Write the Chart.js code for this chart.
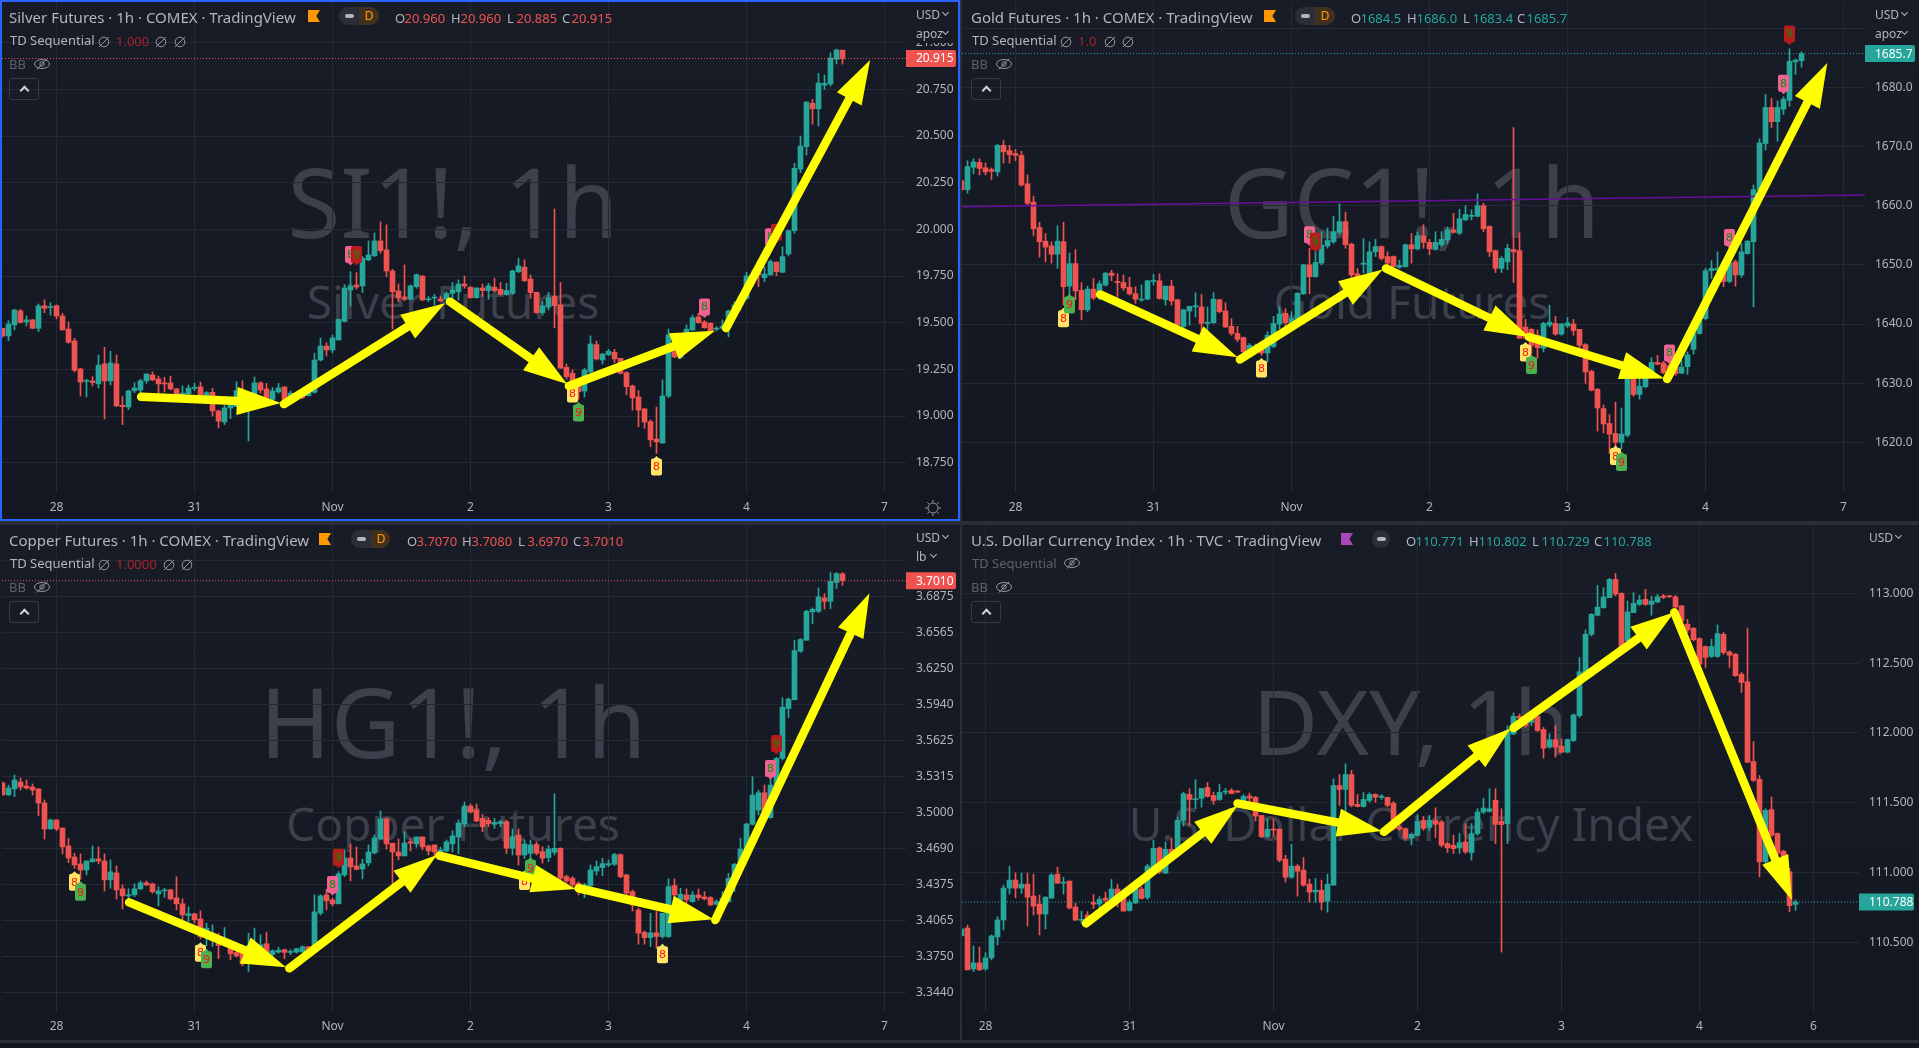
<!DOCTYPE html>
<html lang="en">
<head>
    <meta charset="UTF-8">
    <title>Silver, Gold, Copper, DXY</title>
    <script src="https://cdnjs.cloudflare.com/ajax/libs/Chart.js/4.4.1/chart.umd.min.js"></script>
    <style>
        html, body {
            margin: 0;
            width: 1919px;
            height: 1048px;
            overflow: hidden;
            background-color: #2a2e39;
            font-family: 'Noto Sans', sans-serif;
        }
        .panel {
            position: absolute;
            box-sizing: border-box;
            background: linear-gradient(#181c27, #131722);
        }
        #panelSilver { left: 0; top: 0; width: 960px; height: 521px; border: 2px solid #2962ff; }
        #panelGold { left: 962px; top: 0; width: 957px; height: 521px; }
        #panelCopper { left: 0; top: 525px; width: 960px; height: 515px; }
        #panelDxy { left: 962px; top: 525px; width: 957px; height: 515px; }
        #bottomStrip { position: absolute; left: 0; top: 1043px; width: 1919px; height: 5px; background-color: #131722; }
        .holder { position: absolute; }
        .wm, .lab, .cover { position: absolute; white-space: nowrap; }
        .wm { color: rgba(178, 181, 190, 0.25); text-align: center; transform: translateY(-50%); }
        .lab { transform: translateY(-50%); color: #b2b5be; }
        .cover { background-color: #181c27; }
        .flag { position: absolute; width: 12px; height: 12px; clip-path: polygon(0 0, 100% 0, 70% 50%, 100% 100%, 0 100%); }
        .pill { position: absolute; height: 18px; border-radius: 9px; background-color: #2a2e39; overflow: hidden; }
        .pill i { position: absolute; left: 6px; top: 7px; width: 9px; height: 4px; border-radius: 2px; background-color: #b2b5be; }
        .pill b { position: absolute; left: 20px; top: 0; width: 20px; height: 18px; line-height: 18px; text-align: center;
                  background-color: #42301f; color: #ff9800; font-size: 12px; font-weight: normal; }
        .chev { position: absolute; width: 4px; height: 4px; border-right: 1px solid #b2b5be; border-bottom: 1px solid #b2b5be; transform: rotate(45deg); }
        .btn { position: absolute; width: 28px; height: 20px; border: 1px solid #363a45; border-radius: 3px; }
        .btn span { position: absolute; left: 11px; top: 8px; width: 5px; height: 5px; border-left: 2px solid #d1d4dc; border-top: 2px solid #d1d4dc; transform: rotate(45deg); }
        svg.icon { position: absolute; overflow: visible; }
    </style>
</head>
<body>
    <div class="panel" id="panelSilver"></div>
    <div class="panel" id="panelGold"></div>
    <div class="panel" id="panelCopper"></div>
    <div class="panel" id="panelDxy"></div>
    <div id="bottomStrip"></div>
    <div id="marks"></div>
    <div class="holder" style="left:0;top:0;width:958px;height:520px"><canvas id="silverChart"></canvas></div>
    <div class="holder" style="left:962px;top:0;width:957px;height:521px"><canvas id="goldChart"></canvas></div>
    <div class="holder" style="left:0;top:525px;width:960px;height:515px"><canvas id="copperChart"></canvas></div>
    <div class="holder" style="left:962px;top:525px;width:957px;height:515px"><canvas id="dxyChart"></canvas></div>
    <div id="overlay"></div>

    <script>
        // x axis: bar number of each day mark
        const dayTicks = [9, 32, 55, 78, 101, 124, 147];
        const dayLabels = ['28', '31', 'Nov', '2', '3', '4', '7'];
        const dxyDayTicks = [4, 28, 52, 76, 100, 123, 142];
        const dxyDayLabels = ['28', '31', 'Nov', '2', '3', '4', '6'];

        // ---- silver ----
        const silverTicks = [21, 20.75, 20.5, 20.25, 20, 19.75, 19.5, 19.25, 19, 18.75];
        const silverTickLabels = ['21.000', '20.750', '20.500', '20.250', '20.000', '19.750', '19.500', '19.250', '19.000', '18.750'];
        const silverOpen = [19.470,19.429,19.488,19.563,19.504,19.515,19.470,19.590,19.581,19.591,
            19.536,19.466,19.402,19.252,19.186,19.188,19.172,19.279,19.188,19.279,
            19.057,19.048,19.136,19.139,19.188,19.220,19.198,19.177,19.177,19.145,
            19.113,19.118,19.148,19.156,19.104,19.127,19.027,18.968,19.043,19.050,
            19.125,19.059,19.068,19.177,19.145,19.089,19.129,19.156,19.095,19.104,
            19.113,19.109,19.127,19.300,19.375,19.354,19.407,19.507,19.675,19.702,
            19.697,19.836,19.859,19.938,19.890,19.777,19.670,19.638,19.625,19.693,
            19.750,19.623,19.632,19.627,19.625,19.657,19.666,19.707,19.690,19.634,
            19.686,19.672,19.690,19.679,19.650,19.657,19.773,19.797,19.734,19.663,
            19.554,19.584,19.643,19.595,19.261,19.229,19.184,19.134,19.236,19.382,
            19.300,19.329,19.341,19.309,19.232,19.161,19.102,19.038,18.970,18.877,
            18.855,19.107,19.345,19.314,19.368,19.461,19.531,19.504,19.497,19.465,
            19.470,19.473,19.559,19.595,19.631,19.747,19.782,19.741,19.756,19.824,
            19.770,19.868,19.993,20.323,20.443,20.675,20.646,20.773,20.779,20.911,20.960];
        const silverHigh = [19.470,19.511,19.572,19.572,19.536,19.518,19.600,19.622,19.607,19.595,
            19.550,19.504,19.416,19.256,19.197,19.211,19.327,19.368,19.347,19.327,
            19.104,19.139,19.179,19.197,19.227,19.236,19.214,19.207,19.214,19.148,
            19.161,19.166,19.175,19.182,19.131,19.148,19.032,19.057,19.068,19.184,
            19.189,19.122,19.209,19.184,19.175,19.152,19.175,19.157,19.134,19.125,
            19.122,19.139,19.336,19.418,19.393,19.434,19.518,19.704,19.773,19.768,
            19.854,19.938,19.981,20.040,20.024,19.786,19.707,19.809,19.702,19.761,
            19.752,19.640,19.652,19.643,19.666,19.715,19.729,19.750,19.693,19.686,
            19.707,19.711,19.738,19.715,19.711,19.782,19.845,19.836,19.756,19.663,
            19.613,19.663,20.109,19.715,19.279,19.247,19.202,19.256,19.429,19.402,
            19.336,19.357,19.357,19.309,19.238,19.166,19.136,19.041,18.979,19.048,
            19.193,19.466,19.407,19.380,19.488,19.541,19.550,19.511,19.500,19.479,
            19.515,19.568,19.613,19.657,19.770,19.782,19.791,19.800,19.836,19.827,
            19.907,19.996,20.354,20.500,20.684,20.696,20.836,20.827,20.946,20.966,20.960];
        const silverLow = [19.422,19.404,19.461,19.497,19.482,19.468,19.452,19.554,19.541,19.520,
            19.461,19.390,19.236,19.107,19.102,19.161,19.150,18.984,19.166,19.050,
            18.954,19.034,19.125,19.122,19.175,19.189,19.122,19.129,19.139,19.095,
            19.095,19.104,19.136,19.104,19.068,19.000,18.936,18.954,18.986,19.050,
            19.050,18.866,19.064,19.122,19.086,19.086,19.122,19.077,19.086,19.093,
            19.093,19.107,19.122,19.295,19.322,19.339,19.407,19.504,19.590,19.679,
            19.661,19.832,19.854,19.872,19.747,19.466,19.613,19.618,19.622,19.684,
            19.618,19.613,19.595,19.613,19.604,19.622,19.622,19.684,19.631,19.631,
            19.640,19.625,19.666,19.648,19.647,19.650,19.768,19.720,19.631,19.550,
            19.541,19.568,19.473,19.256,19.197,19.157,19.090,19.102,19.232,19.300,
            19.279,19.323,19.286,19.225,19.113,19.032,18.943,18.934,18.836,18.800,
            18.855,19.098,19.313,19.307,19.363,19.457,19.497,19.470,19.454,19.456,
            19.465,19.425,19.550,19.568,19.625,19.729,19.693,19.720,19.754,19.752,
            19.768,19.857,19.979,20.304,20.398,20.564,20.554,20.750,20.768,20.886,20.885];
        const silverClose = [19.429,19.493,19.568,19.502,19.515,19.470,19.590,19.577,19.586,19.536,
            19.461,19.395,19.245,19.182,19.189,19.179,19.272,19.188,19.284,19.054,
            19.050,19.134,19.150,19.189,19.225,19.193,19.172,19.172,19.145,19.113,
            19.122,19.150,19.154,19.113,19.125,19.027,18.973,19.043,19.059,19.136,
            19.057,19.077,19.177,19.139,19.095,19.134,19.150,19.086,19.122,19.118,
            19.100,19.125,19.300,19.375,19.354,19.418,19.518,19.686,19.697,19.691,
            19.845,19.863,19.938,19.886,19.777,19.666,19.634,19.625,19.697,19.757,
            19.622,19.627,19.636,19.616,19.657,19.675,19.707,19.697,19.634,19.686,
            19.672,19.697,19.672,19.652,19.672,19.777,19.804,19.725,19.661,19.554,
            19.590,19.634,19.591,19.256,19.211,19.184,19.130,19.247,19.386,19.306,
            19.332,19.347,19.306,19.229,19.157,19.097,19.032,18.968,18.872,18.861,
            19.107,19.434,19.316,19.368,19.465,19.527,19.500,19.473,19.457,19.468,
            19.481,19.563,19.595,19.640,19.750,19.759,19.756,19.761,19.827,19.773,
            19.854,19.993,20.327,20.446,20.682,20.646,20.784,20.782,20.918,20.961,20.915];
        // start bar, start price, end bar, end price
        const silverArrows = [[23.1,19.103,46.4,19.070],[46.9,19.064,73.75,19.604],[74.6,19.612,94.1,19.171],
            [94.4,19.161,118.75,19.457],[120.6,19.471,144.6,20.907]];
        const silverTags = [[58,19.865,'8','sell'],[59,19.865,'9','top'],[95,19.118,'8','buy'],[96,19.016,'9','low'],
            [109,18.727,'8','buy'],[117,19.584,'8','sell'],[128,19.96,'8','sell'],[129,19.985,'9','top']];

        // ---- gold ----
        const goldTicks = [1690, 1680, 1670, 1660, 1650, 1640, 1630, 1620];
        const goldTickLabels = ['', '1680.0', '1670.0', '1660.0', '1650.0', '1640.0', '1630.0', '1620.0'];
        const goldOpen = [1664.2,1662.7,1666.5,1667.3,1666.4,1666.1,1665.7,1670.2,1669.3,1668.8,
            1668.5,1663.7,1660.6,1656.3,1654.0,1653.2,1651.8,1653.9,1646.4,1650.2,
            1645.7,1642.4,1645.9,1645.5,1646.6,1648.6,1647.2,1647.0,1646.2,1645.1,
            1644.05,1644.2,1647.2,1647.3,1644.1,1646.4,1644.1,1639.6,1642.2,1642.9,
            1642.9,1640.1,1640.2,1644.1,1642.2,1639.6,1638.4,1637.7,1635.0,1635.6,
            1635.9,1635.1,1636.2,1640.0,1641.8,1639.5,1640.7,1645.1,1650.0,1648.0,
            1650.3,1653.2,1653.9,1655.5,1657.3,1653.5,1648.5,1650.1,1648.3,1652.2,
            1653.1,1651.4,1651.4,1649.6,1649.7,1653.4,1652.7,1654.9,1653.8,1652.6,
            1653.4,1654.2,1655.9,1655.35,1657.6,1658.2,1658.2,1660.0,1656.5,1652.4,
            1649.4,1650.5,1652.6,1652.4,1639.5,1639.1,1638.1,1635.9,1639.8,1640.1,
            1638.3,1639.7,1640.0,1639.1,1636.5,1632.0,1628.96,1625.7,1623.2,1621.5,
            1620.0,1621.2,1631.3,1628.1,1629.4,1631.5,1633.5,1633.4,1633.0,1632.6,
            1631.7,1632.8,1635.7,1638.4,1640.9,1649.0,1649.1,1649.7,1647.2,1650.5,
            1648.3,1651.9,1653.9,1662.7,1670.5,1676.6,1674.2,1676.3,1677.8,1684.3,1684.5];
        const goldHigh = [1664.4,1667.6,1667.9,1667.9,1667.2,1666.4,1670.4,1671.0,1670.2,1669.5,
            1669.2,1665.2,1661.6,1657.2,1655.3,1653.9,1656.6,1657.2,1652.0,1652.6,
            1647.0,1646.4,1647.7,1647.3,1648.7,1649.1,1648.5,1648.3,1647.9,1646.3,
            1646.6,1647.4,1648.4,1648.5,1646.4,1647.4,1644.2,1642.5,1643.0,1645.3,
            1645.0,1642.9,1645.3,1644.2,1643.6,1640.9,1639.6,1637.8,1636.7,1636.6,
            1636.7,1638.7,1641.3,1643.0,1642.6,1642.1,1645.3,1650.1,1652.8,1653.1,
            1655.6,1656.2,1658.2,1660.3,1658.9,1653.7,1649.4,1654.4,1653.9,1654.3,
            1653.2,1652.2,1651.5,1650.8,1653.5,1655.3,1655.5,1656.8,1654.3,1655.6,
            1655.6,1656.4,1658.7,1659.4,1660.0,1659.3,1662.0,1660.4,1656.6,1652.5,
            1651.4,1653.5,1673.2,1655.4,1640.8,1639.2,1639.0,1640.3,1643.2,1641.3,
            1640.1,1641.1,1640.8,1639.1,1636.7,1632.2,1629.1,1626.3,1624.7,1626.8,
            1625.8,1631.9,1632.8,1631.1,1632.5,1634.3,1634.7,1633.7,1634.2,1633.3,
            1633.9,1635.3,1639.0,1641.5,1649.4,1650.7,1652.2,1650.5,1650.8,1650.8,
            1653.7,1654.1,1663.5,1671.3,1678.8,1678.1,1677.7,1678.4,1686.5,1684.8,1686.0];
        const goldLow = [1662.5,1662.1,1665.4,1665.2,1665.2,1664.4,1665.0,1667.2,1667.2,1667.6,
            1663.3,1660.2,1654.9,1651.3,1650.5,1650.3,1649.4,1643.2,1644.6,1644.1,
            1640.7,1642.1,1644.1,1644.1,1646.4,1647.3,1644.6,1645.7,1644.9,1643.5,
            1643.8,1644.1,1646.6,1644.2,1643.2,1643.2,1639.5,1639.0,1639.8,1641.2,
            1638.7,1638.7,1640.1,1641.9,1639.4,1638.1,1637.0,1635.0,1634.7,1635.3,
            1634.7,1633.6,1636.0,1639.2,1639.5,1639.2,1640.5,1645.0,1645.1,1647.9,
            1650.0,1652.8,1653.6,1655.1,1652.8,1647.4,1647.4,1648.6,1648.0,1651.4,
            1650.8,1649.4,1649.6,1649.4,1649.6,1650.3,1652.5,1652.8,1651.7,1652.5,
            1653.1,1653.6,1655.35,1655.1,1657.5,1657.6,1658.1,1655.6,1651.4,1648.7,
            1648.7,1649.2,1647.0,1637.6,1637.4,1635.0,1634.2,1635.3,1639.5,1638.1,
            1638.1,1639.4,1638.1,1636.0,1630.0,1628.7,1621.9,1621.6,1618.1,1619.2,
            1618.9,1620.9,1627.8,1627.3,1629.2,1631.3,1633.1,1631.6,1631.6,1631.3,
            1631.6,1631.5,1634.9,1638.3,1640.7,1647.7,1647.7,1646.3,1647.0,1646.4,
            1647.9,1651.8,1642.9,1662.4,1669.4,1673.2,1670.9,1675.4,1676.8,1682.2,1683.4];
        const goldClose = [1662.7,1666.6,1667.4,1666.3,1665.7,1665.8,1670.2,1669.1,1668.6,1668.5,
            1663.5,1660.4,1656.1,1653.9,1653.0,1651.8,1654.0,1646.3,1650.2,1645.6,
            1642.4,1645.9,1644.4,1646.8,1648.6,1648.2,1647.0,1646.1,1645.1,1644.2,
            1644.2,1647.3,1647.3,1644.3,1646.4,1643.9,1639.8,1642.4,1643.0,1643.1,
            1640.1,1640.3,1644.2,1642.1,1639.5,1638.4,1637.4,1635.3,1636.4,1636.2,
            1635.1,1638.1,1640.1,1641.7,1640.2,1640.9,1645.2,1650.0,1648.0,1650.4,
            1653.3,1654.1,1655.6,1657.3,1653.4,1648.3,1648.0,1650.3,1652.2,1653.1,
            1651.1,1650.3,1649.7,1649.9,1653.4,1652.7,1654.9,1653.8,1652.7,1653.8,
            1654.3,1655.9,1655.5,1657.8,1658.5,1658.3,1660.0,1656.1,1652.2,1649.4,
            1651.1,1652.8,1652.2,1637.6,1637.6,1636.4,1636.0,1640.1,1640.3,1638.3,
            1640.0,1640.2,1638.9,1636.4,1631.9,1628.8,1625.8,1623.1,1621.4,1620.0,
            1621.4,1630.8,1628.1,1629.5,1631.6,1633.5,1633.2,1631.8,1631.9,1631.6,
            1632.7,1634.8,1638.4,1640.8,1649.0,1649.4,1649.4,1647.2,1650.3,1648.3,
            1652.2,1654.0,1662.7,1670.6,1676.6,1674.2,1676.6,1678.0,1684.4,1684.6,1685.7];
        const goldArrows = [[23.1,1645.0,46.0,1634.4],[46.4,1634.0,70.2,1649.2],[70.75,1649.4,94.6,1637.8],
            [94.6,1637.8,117.1,1630.8],[117.6,1630.7,144.3,1684.1]];
        const goldTags = [[17,1640.9,'8','buy'],[18,1643.2,'9','low'],[50,1632.4,'8','buy'],[58,1655.1,'8','sell'],
            [59,1654.0,'9','top'],[94,1635.1,'8','buy'],[95,1633.0,'9','low'],[109,1617.6,'8','buy'],[110,1616.6,'9','low'],
            [118,1635.1,'8','sell'],[128,1654.6,'8','sell'],[137,1680.7,'8','sell'],[138,1689.0,'9','top']];
        const goldBand = [[0, 1659.8], [151, 1661.8]];

        // ---- copper ----
        const copperTicks = [3.71875, 3.6875, 3.65625, 3.625, 3.59375, 3.5625, 3.53125, 3.5, 3.46875, 3.4375, 3.40625, 3.375, 3.34375];
        const copperTickLabels = ['', '3.6875', '3.6565', '3.6250', '3.5940', '3.5625', '3.5315', '3.5000', '3.4690', '3.4375', '3.4065', '3.3750', '3.3440'];
        const copperOpen = [3.5255,3.5151,3.5203,3.5263,3.5229,3.5220,3.5203,3.5081,3.4856,3.4934,
            3.4864,3.4708,3.4613,3.4552,3.4500,3.4570,3.4596,3.4578,3.4414,3.4474,
            3.4336,3.4275,3.4284,3.4336,3.4388,3.4379,3.4292,3.4318,3.4327,3.4258,
            3.4206,3.4104,3.4119,3.4075,3.3922,3.3908,3.3922,3.3870,3.3836,3.3784,
            3.3784,3.3763,3.3792,3.3807,3.3859,3.3766,3.3787,3.3807,3.3784,3.3787,
            3.3789,3.3833,3.3836,3.4125,3.4284,3.4240,3.4206,3.4457,3.4604,3.4535,
            3.4509,3.4561,3.4648,3.4769,3.4942,3.4732,3.4656,3.4622,3.4746,3.4726,
            3.4786,3.4708,3.4717,3.4651,3.4665,3.4726,3.4786,3.4899,3.5055,3.5020,
            3.4948,3.4930,3.4896,3.4902,3.4919,3.4688,3.4803,3.4630,3.4644,3.4722,
            3.4659,3.4607,3.4653,3.4688,3.4442,3.4428,3.4384,3.4312,3.4364,3.4491,
            3.4520,3.4543,3.4549,3.4633,3.4457,3.4312,3.4153,3.3959,3.3913,3.3954,
            3.3922,3.3922,3.4364,3.4240,3.4283,3.4225,3.4283,3.4266,3.4260,3.4202,
            3.4211,3.4225,3.4413,3.4543,3.4673,3.4896,3.5020,3.5170,3.4954,3.5237,
            3.5468,3.5901,3.5977,3.6399,3.6494,3.6740,3.6745,3.6861,3.6832,3.6994,3.7070];
        const copperHigh = [3.5263,3.5237,3.5324,3.5298,3.5281,3.5246,3.5208,3.5107,3.4942,3.4934,
            3.4864,3.4775,3.4645,3.4639,3.4578,3.4708,3.4700,3.4639,3.4587,3.4535,
            3.4370,3.4336,3.4379,3.4405,3.4405,3.4385,3.4353,3.4341,3.4333,3.4440,
            3.4249,3.4180,3.4125,3.4145,3.4038,3.4023,3.3951,3.4000,3.3893,3.3807,
            3.3836,3.3951,3.3995,3.3937,3.3960,3.3807,3.3830,3.3812,3.3807,3.3821,
            3.3841,3.3836,3.4284,3.4284,3.4333,3.4255,3.4486,3.4674,3.4726,3.4700,
            3.4593,3.4717,3.4804,3.5012,3.4951,3.4732,3.4769,3.4830,3.4766,3.4786,
            3.4786,3.4717,3.4717,3.4697,3.4760,3.4838,3.4934,3.5090,3.5072,3.5072,
            3.4982,3.4954,3.4948,3.4933,3.4933,3.4855,3.4855,3.4760,3.4760,3.4745,
            3.4702,3.4711,3.5162,3.4693,3.4456,3.4442,3.4399,3.4384,3.4543,3.4578,
            3.4601,3.4587,3.4644,3.4639,3.4462,3.4326,3.4168,3.3971,3.4124,3.4139,
            3.4124,3.4422,3.4422,3.4341,3.4335,3.4312,3.4335,3.4312,3.4269,3.4240,
            3.4312,3.4471,3.4558,3.4775,3.4904,3.5309,3.5193,3.5237,3.5338,3.5477,
            3.5994,3.5994,3.6494,3.6508,3.6754,3.6774,3.6948,3.6899,3.7081,3.7081,3.7080];
        const copperLow = [3.5151,3.5148,3.5136,3.5194,3.5200,3.5151,3.4971,3.4769,3.4853,3.4841,
            3.4639,3.4564,3.4515,3.4419,3.4457,3.4570,3.4552,3.4318,3.4341,3.4249,
            3.4162,3.4226,3.4269,3.4327,3.4362,3.4298,3.4188,3.4263,3.4240,3.4154,
            3.4067,3.4052,3.4038,3.3902,3.3841,3.3836,3.3729,3.3836,3.3720,3.3743,
            3.3668,3.3619,3.3749,3.3749,3.3749,3.3749,3.3778,3.3729,3.3763,3.3778,
            3.3784,3.3792,3.3821,3.4110,3.4154,3.4188,3.4206,3.4442,3.4405,3.4500,
            3.4422,3.4535,3.4639,3.4760,3.4682,3.4379,3.4587,3.4622,3.4665,3.4697,
            3.4674,3.4630,3.4616,3.4630,3.4656,3.4656,3.4639,3.4876,3.4994,3.4919,
            3.4832,3.4875,3.4861,3.4875,3.4644,3.4630,3.4543,3.4601,3.4572,3.4630,
            3.4558,3.4572,3.4630,3.4413,3.4384,3.4355,3.4283,3.4260,3.4355,3.4456,
            3.4451,3.4529,3.4538,3.4433,3.4283,3.4144,3.3855,3.3855,3.3835,3.3821,
            3.3907,3.3913,3.4225,3.4225,3.4211,3.4220,3.4240,3.4240,3.4191,3.4196,
            3.4196,3.4220,3.4312,3.4538,3.4601,3.4890,3.4977,3.4933,3.4948,3.5222,
            3.5454,3.5823,3.5977,3.6387,3.6494,3.6638,3.6734,3.6763,3.6768,3.6942,3.6970];
        const copperClose = [3.5151,3.5211,3.5281,3.5220,3.5211,3.5194,3.5081,3.4856,3.4934,3.4856,
            3.4700,3.4604,3.4544,3.4500,3.4578,3.4596,3.4578,3.4414,3.4483,3.4327,
            3.4275,3.4281,3.4336,3.4388,3.4370,3.4310,3.4318,3.4324,3.4249,3.4206,
            3.4110,3.4119,3.4067,3.3922,3.3995,3.3951,3.3844,3.3908,3.3772,3.3755,
            3.3685,3.3841,3.3865,3.3850,3.3778,3.3798,3.3804,3.3784,3.3792,3.3815,
            3.3833,3.3801,3.4136,3.4275,3.4232,3.4206,3.4466,3.4604,3.4526,3.4506,
            3.4552,3.4656,3.4778,3.4942,3.4726,3.4656,3.4622,3.4734,3.4732,3.4786,
            3.4700,3.4665,3.4656,3.4674,3.4743,3.4795,3.4908,3.5055,3.5003,3.4925,
            3.4875,3.4902,3.4913,3.4919,3.4688,3.4789,3.4630,3.4725,3.4717,3.4644,
            3.4601,3.4682,3.4688,3.4428,3.4404,3.4370,3.4326,3.4370,3.4500,3.4529,
            3.4555,3.4555,3.4633,3.4442,3.4298,3.4196,3.3951,3.3913,3.3954,3.3922,
            3.4124,3.4355,3.4283,3.4289,3.4240,3.4283,3.4260,3.4248,3.4196,3.4225,
            3.4254,3.4428,3.4549,3.4682,3.4899,3.5150,3.5170,3.4948,3.5237,3.5468,
            3.5913,3.5982,3.6404,3.6500,3.6745,3.6763,3.6870,3.6832,3.7005,3.7072,3.7010];
        const copperArrows = [[21.1,3.4219,47.25,3.3655],[47.8,3.3646,72.4,3.4630],[72.8,3.4624,95.5,3.4334],
            [96.0,3.4341,118.5,3.4071],[118.8,3.4065,144.5,3.6901]];
        const copperTags = [[12,3.4393,'8','buy'],[13,3.4307,'9','low'],[33,3.3778,'8','buy'],[34,3.3720,'9','low'],
            [55,3.4373,'8','sell'],[56,3.4610,'9','top'],[87,3.4399,'8','buy'],[88,3.4514,'9','low'],[110,3.3763,'8','buy'],
            [128,3.5381,'8','sell'],[129,3.5598,'9','top']];

        // ---- dollar index ----
        const dxyTicks = [113, 112.5, 112, 111.5, 111, 110.5];
        const dxyTickLabels = ['113.000', '112.500', '112.000', '111.500', '111.000', '110.500'];
        const dxyOpen = [110.547,110.602,110.309,110.352,110.309,110.388,110.538,110.659,110.888,110.945,
            110.888,110.916,110.831,110.773,110.702,110.816,110.988,110.923,110.938,110.752,
            110.657,110.695,110.785,110.773,110.816,110.802,110.881,110.814,110.728,110.781,
            110.881,110.821,110.992,111.176,110.995,111.166,111.171,111.373,111.559,111.521,
            111.531,111.609,111.552,111.523,111.576,111.588,111.583,111.504,111.547,111.538,
            111.409,111.257,111.309,111.309,111.095,110.966,111.045,111.016,110.916,110.861,
            110.873,110.795,110.909,111.623,111.595,111.702,111.488,111.473,111.516,111.559,
            111.538,111.538,111.495,111.326,111.314,111.247,111.266,111.373,111.323,111.373,
            111.362,111.207,111.195,111.176,111.219,111.143,111.279,111.433,111.438,111.517,
            111.367,111.350,111.993,112.119,112.119,112.076,112.119,112.024,111.898,111.952,
            111.905,111.862,111.945,112.124,112.433,112.707,112.843,112.898,112.969,113.100,
            113.000,112.660,112.862,112.921,112.957,112.921,112.938,112.981,112.981,112.974,
            112.910,112.779,112.750,112.676,112.619,112.548,112.548,112.707,112.581,112.564,
            112.421,112.367,111.795,111.667,111.076,111.450,111.279,111.152,111.005,110.771];
        const dxyHigh = [110.600,110.623,110.473,110.466,110.426,110.552,110.683,110.909,111.045,110.997,
            110.995,110.995,110.988,110.838,110.826,110.992,111.038,110.966,110.938,110.778,
            110.723,110.719,110.842,110.826,110.859,110.950,110.916,110.838,110.802,110.921,
            110.897,111.059,111.231,111.183,111.219,111.247,111.397,111.576,111.600,111.666,
            111.602,111.645,111.576,111.631,111.602,111.602,111.588,111.559,111.569,111.545,
            111.409,111.385,111.385,111.314,111.123,111.202,111.057,111.107,110.952,110.957,
            110.945,110.988,111.671,111.702,111.778,111.731,111.559,111.573,111.571,111.564,
            111.559,111.540,111.509,111.338,111.319,111.283,111.416,111.402,111.409,111.464,
            111.374,111.219,111.267,111.279,111.350,111.350,111.457,111.533,111.600,111.600,
            111.457,112.052,112.143,112.136,112.129,112.124,112.124,112.040,111.993,112.052,
            111.957,111.957,112.136,112.540,112.738,112.855,113.057,113.040,113.107,113.143,
            113.005,112.945,113.005,112.986,113.029,112.981,112.993,112.993,112.986,112.986,
            112.914,112.814,112.755,112.683,112.624,112.671,112.774,112.719,112.588,112.569,
            112.433,112.748,111.938,111.695,111.457,111.540,111.283,111.160,111.029,110.802];
        const dxyLow = [110.540,110.302,110.290,110.297,110.297,110.373,110.481,110.588,110.845,110.819,
            110.850,110.616,110.695,110.552,110.595,110.814,110.921,110.845,110.738,110.654,
            110.635,110.635,110.742,110.747,110.754,110.790,110.754,110.723,110.723,110.778,
            110.809,110.807,110.992,110.992,110.992,111.107,111.159,111.333,111.338,111.457,
            111.469,111.540,111.488,111.516,111.559,111.564,111.571,111.481,111.481,111.369,
            111.250,111.250,111.254,111.076,110.931,110.957,110.831,110.902,110.788,110.788,
            110.731,110.716,110.909,111.481,111.409,111.469,111.469,111.469,111.504,111.504,
            111.523,111.469,111.302,111.302,111.231,111.197,111.261,111.302,111.302,111.250,
            111.183,111.143,111.136,111.136,111.136,111.088,111.267,111.421,111.433,111.207,
            110.429,111.207,111.986,112.076,112.040,112.052,112.010,111.819,111.890,111.826,
            111.857,111.857,111.938,112.112,112.421,112.695,112.838,112.893,112.969,112.981,
            112.600,112.648,112.862,112.914,112.914,112.843,112.933,112.962,112.969,112.838,
            112.743,112.719,112.660,112.481,112.469,112.541,112.541,112.564,112.469,112.405,
            112.290,111.786,111.652,110.969,111.064,111.255,111.124,110.945,110.719,110.729];
        const dxyClose = [110.595,110.302,110.352,110.302,110.388,110.545,110.659,110.888,110.945,110.888,
            110.916,110.823,110.759,110.702,110.823,110.981,110.923,110.931,110.745,110.659,
            110.664,110.664,110.773,110.807,110.802,110.881,110.790,110.723,110.785,110.885,
            110.814,111.045,111.173,111.004,111.166,111.111,111.373,111.564,111.523,111.528,
            111.602,111.545,111.516,111.573,111.583,111.566,111.576,111.545,111.533,111.404,
            111.257,111.309,111.304,111.088,110.966,111.045,111.009,110.909,110.859,110.873,
            110.788,110.916,111.623,111.595,111.702,111.481,111.473,111.523,111.559,111.540,
            111.547,111.481,111.314,111.311,111.245,111.273,111.366,111.316,111.373,111.345,
            111.195,111.176,111.171,111.214,111.148,111.279,111.433,111.462,111.457,111.345,
            111.343,112.017,112.119,112.107,112.052,112.112,112.017,111.890,111.952,111.898,
            111.862,111.952,112.129,112.438,112.707,112.850,112.902,112.974,113.100,112.995,
            112.600,112.867,112.929,112.952,112.921,112.945,112.976,112.971,112.976,112.902,
            112.802,112.738,112.667,112.493,112.541,112.619,112.712,112.576,112.557,112.410,
            112.362,111.790,111.660,111.076,111.445,111.267,111.136,111.005,110.762,110.788];
        const dxyArrows = [[20.75,110.635,46.0,111.478],[46.0,111.495,70.0,111.298],[70.4,111.291,91.5,112.032],
            [92.0,112.035,118.8,112.864],[118.8,112.864,138.4,110.802]];
        const dxyTags = [];

        const UP = '#26a69a';
        const DOWN = '#ef5350';
        const GRID = '#252934';
        const TEXT = '#b2b5be';
        const FONT = "'Noto Sans', sans-serif";

        const tagStyles = {
            buy: { bg: '#ffe566', fg: '#ff1010', tip: -1 },
            low: { bg: '#4caf50', fg: '#ff1010', tip: -1 },
            sell: { bg: '#f06292', fg: '#0a8f0a', tip: 1 },
            top: { bg: '#b71c1c', fg: '#0a8f0a', tip: 1 }
        };

        // yellow arrows, TD tags and the last price box, placed through the chart scales
        const drawings = {
            id: 'drawings',
            afterDatasetsDraw(chart, args, opts) {
                const { ctx, scales: { x, y } } = chart;
                ctx.save();

                opts.tags.forEach(([bar, price, digit, kind]) => {
                    const st = tagStyles[kind];
                    const px = x.getPixelForValue(bar);
                    const py = y.getPixelForValue(price);
                    ctx.fillStyle = st.bg;
                    ctx.beginPath();
                    ctx.roundRect(px - 5.5, py - 8.5, 11, 17, 2);
                    ctx.fill();
                    ctx.beginPath();
                    ctx.moveTo(px - 3, py + st.tip * 8);
                    ctx.lineTo(px + 3, py + st.tip * 8);
                    ctx.lineTo(px, py + st.tip * 11);
                    ctx.fill();
                    ctx.fillStyle = st.fg;
                    ctx.font = "11px 'DejaVu Sans'";
                    ctx.textAlign = 'center';
                    ctx.textBaseline = 'middle';
                    ctx.fillText(digit, px, py + 0.5);
                });

                opts.arrows.forEach(([x0, y0, x1, y1]) => {
                    const ax = x.getPixelForValue(x0), ay = y.getPixelForValue(y0);
                    const bx = x.getPixelForValue(x1), by = y.getPixelForValue(y1);
                    const ang = Math.atan2(by - ay, bx - ax);
                    const ux = Math.cos(ang), uy = Math.sin(ang);
                    const baseX = bx - ux * 44, baseY = by - uy * 44;
                    ctx.strokeStyle = '#ffff00';
                    ctx.fillStyle = '#ffff00';
                    ctx.lineWidth = 8.5;
                    ctx.lineCap = 'round';
                    ctx.beginPath();
                    ctx.moveTo(ax, ay);
                    ctx.lineTo(baseX, baseY);
                    ctx.stroke();
                    ctx.beginPath();
                    ctx.moveTo(bx, by);
                    ctx.lineTo(baseX - uy * 14, baseY + ux * 14);
                    ctx.lineTo(baseX + uy * 14, baseY - ux * 14);
                    ctx.closePath();
                    ctx.fill();
                });

                const py = y.getPixelForValue(opts.last);
                ctx.fillStyle = opts.lastColor;
                ctx.beginPath();
                ctx.roundRect(x.right, py - 8.5, opts.boxWidth, 17, [0, 2, 2, 0]);
                ctx.fill();
                ctx.fillStyle = '#ffffff';
                ctx.font = '12px ' + FONT;
                ctx.textAlign = 'left';
                ctx.textBaseline = 'middle';
                ctx.fillText(opts.lastLabel, x.right + 10, py + 0.5);
                ctx.restore();
            }
        };

        // chart.js pads the plot for the outer tick labels, the reference has none of that
        function noPadding(axis) {
            axis.paddingTop = axis.paddingBottom = axis.paddingLeft = axis.paddingRight = 0;
        }

        function makeChart(id, cfg) {
            const bars = cfg.open.map((_, i) => i);
            const colors = bars.map(i => (cfg.close[i] >= cfg.open[i] ? UP : DOWN));
            const datasets = [
                { type: 'bar', data: bars.map(i => ({ x: i, y: [cfg.low[i], cfg.high[i]] })), backgroundColor: colors,
                  barThickness: 1, grouped: false, order: 3, borderWidth: 0 },
                { type: 'bar', data: bars.map(i => ({ x: i, y: [cfg.open[i], cfg.close[i]] })), backgroundColor: colors,
                  barThickness: 5, minBarLength: 1, grouped: false, order: 2, borderWidth: 0 },
                { type: 'line', data: [{ x: cfg.xMin, y: cfg.last }, { x: cfg.xMax, y: cfg.last }], borderColor: cfg.lastColor,
                  borderWidth: 1, borderDash: [1, 2], pointRadius: 0, order: 1 }
            ];
            if (cfg.band) {
                datasets.push({ type: 'line', data: cfg.band.map(p => ({ x: p[0], y: p[1] })), borderColor: '#6a0f9c',
                                borderWidth: 1.5, pointRadius: 0, order: 1 });
            }
            return new Chart(document.getElementById(id), {
                data: { datasets },
                options: {
                    responsive: true,
                    maintainAspectRatio: false,
                    animation: false,
                    devicePixelRatio: 1,
                    layout: { padding: cfg.padding },
                    plugins: {
                        legend: { display: false },
                        tooltip: { enabled: false },
                        drawings: { arrows: cfg.arrows, tags: cfg.tags, last: cfg.last, lastColor: cfg.lastColor,
                                    lastLabel: cfg.lastLabel, boxWidth: cfg.boxWidth }
                    },
                    scales: {
                        x: {
                            type: 'linear',
                            offset: false,
                            min: cfg.xMin,
                            max: cfg.xMax,
                            afterBuildTicks: axis => { axis.ticks = cfg.dayTicks.map(v => ({ value: v })); },
                            afterFit: axis => { axis.height = cfg.xHeight; noPadding(axis); },
                            grid: { color: GRID, drawTicks: false, offset: false },
                            border: { display: false },
                            ticks: {
                                autoSkip: false, maxRotation: 0, padding: 7, color: TEXT,
                                font: { family: FONT, size: 12 },
                                callback: v => cfg.dayLabels[cfg.dayTicks.indexOf(v)]
                            }
                        },
                        y: {
                            position: 'right',
                            min: cfg.yMin,
                            max: cfg.yMax,
                            afterBuildTicks: axis => { axis.ticks = cfg.ticks.map(v => ({ value: v })); },
                            afterFit: axis => { axis.width = cfg.yWidth; noPadding(axis); },
                            grid: { color: GRID, drawTicks: false },
                            border: { display: false },
                            ticks: {
                                autoSkip: false, padding: 10, color: TEXT,
                                font: { family: FONT, size: 12 },
                                callback: v => cfg.tickLabels[cfg.ticks.indexOf(v)]
                            }
                        }
                    }
                },
                plugins: [drawings]
            });
        }

        makeChart('silverChart', {
            open: silverOpen, high: silverHigh, low: silverLow, close: silverClose,
            ticks: silverTicks, tickLabels: silverTickLabels, dayTicks, dayLabels,
            arrows: silverArrows, tags: silverTags,
            xMin: -0.083, xMax: 150.584, yMin: 18.5875, yMax: 21.218,
            padding: { left: 2, top: 2 }, yWidth: 52, xHeight: 27,
            last: 20.915, lastColor: DOWN, lastLabel: '20.915', boxWidth: 50
        });
        makeChart('goldChart', {
            open: goldOpen, high: goldHigh, low: goldLow, close: goldClose,
            ticks: goldTicks, tickLabels: goldTickLabels, dayTicks, dayLabels,
            arrows: goldArrows, tags: goldTags, band: goldBand,
            xMin: 0.083, xMax: 150.583, yMin: 1611.44, yMax: 1694.59,
            padding: { top: 1 }, yWidth: 54, xHeight: 28,
            last: 1685.7, lastColor: UP, lastLabel: '1685.7', boxWidth: 50
        });
        makeChart('copperChart', {
            open: copperOpen, high: copperHigh, low: copperLow, close: copperClose,
            ticks: copperTicks, tickLabels: copperTickLabels, dayTicks, dayLabels,
            arrows: copperArrows, tags: copperTags,
            xMin: -0.083, xMax: 150.584, yMin: 3.3267, yMax: 3.7494,
            padding: { left: 2 }, yWidth: 54, xHeight: 28,
            last: 3.7010, lastColor: DOWN, lastLabel: '3.7010', boxWidth: 50
        });
        makeChart('dxyChart', {
            open: dxyOpen, high: dxyHigh, low: dxyLow, close: dxyClose,
            ticks: dxyTicks, tickLabels: dxyTickLabels, dayTicks: dxyDayTicks, dayLabels: dxyDayLabels,
            arrows: dxyArrows, tags: dxyTags,
            xMin: 0.083, xMax: 149.583, yMin: 110.0, yMax: 113.49,
            padding: {}, yWidth: 60, xHeight: 28,
            last: 110.788, lastColor: UP, lastLabel: '110.788', boxWidth: 55
        });

        // ---- page furniture: watermarks, legends, scale buttons ----
        const marks = document.getElementById('marks');
        const overlay = document.getElementById('overlay');

        function watermark(text, centerX, centerY, size) {
            const el = document.createElement('div');
            el.className = 'wm';
            el.textContent = text;
            el.style.cssText = `left:${centerX - 450}px;width:900px;top:${centerY}px;font-size:${size}px`;
            marks.appendChild(el);
        }
        function label(x, y, text, color, size, parent) {
            const el = document.createElement('div');
            el.className = 'lab';
            el.textContent = text;
            el.style.cssText = `left:${x}px;top:${y}px;color:${color || TEXT};font-size:${size || 13}px`;
            (parent || overlay).appendChild(el);
        }
        function element(cls, css, html) {
            const el = document.createElement('div');
            el.className = cls;
            el.style.cssText = css;
            if (html) el.innerHTML = html;
            overlay.appendChild(el);
        }
        function noSign(x, y, dim) {
            overlay.insertAdjacentHTML('beforeend',
                `<svg class="icon" style="left:${x - 6}px;top:${y - 6}px" width="12" height="12" fill="none" stroke="${dim ? '#6a6d78' : '#9598a1'}">
                 <circle cx="6" cy="6" r="4.8"/><line x1="1" y1="11" x2="11" y2="1"/></svg>`);
        }
        function eye(x, y) {
            overlay.insertAdjacentHTML('beforeend',
                `<svg class="icon" style="left:${x - 8}px;top:${y - 6}px" width="16" height="12" fill="none" stroke="#9598a1">
                 <ellipse cx="8" cy="6" rx="7.5" ry="4.5"/><circle cx="8" cy="6" r="2.2"/><line x1="3" y1="11.5" x2="13" y2="0.5"/></svg>`);
        }
        function legend(p) {
            const y = p.top;
            label(p.left, y + 17, p.title, '#b2b5be', 15);
            element('flag', `left:${p.flagX}px;top:${y + 10}px;background:${p.flagColor}`);
            element('pill', `left:${p.pillX}px;top:${y + 7}px;width:${p.pillW}px`, p.pillD ? '<i></i><b>D</b>' : '<i style="left:5px"></i>');
            ['O', 'H', 'L', 'C'].forEach((n, i) => {
                label(p.ohlcX[i], y + 18, n, TEXT, 13);
                label(p.ohlcX[i] + 9.5, y + 18, p.ohlc[i], p.ohlcColor, 13);
            });
            if (p.td) {
                label(p.left + 1, y + 40, 'TD Sequential', TEXT, 13);
                noSign(p.left + 95, y + 42);
                label(p.left + 107, y + 41, p.td, '#a8232a', 13);
                noSign(p.tdSigns[0], y + 42);
                noSign(p.tdSigns[1], y + 42);
            } else {
                label(p.left + 1, y + 40, 'TD Sequential', '#5d606b', 13);
                eye(p.left + 101, y + 40);
            }
            label(p.left, y + 64, 'BB', '#5d606b', 13);
            eye(p.left + 33, y + 64);
            element('btn', `left:${p.left}px;top:${y + 78}px`, '<span></span>');
            p.units.forEach((u, i) => {
                label(p.axisX, y + 14 + i * 19, u, TEXT, 12);
                element('chev', `left:${p.axisX + (u.length > 3 ? 27 : u === 'lb' ? 15 : 27)}px;top:${y + 10 + i * 19}px`);
            });
        }

        watermark('SI1!, 1h', 453, 200, 96);
        watermark('Silver Futures', 453, 301, 46);
        watermark('GC1!, 1h', 1412, 200, 96);
        watermark('Gold Futures', 1412, 301, 46);
        watermark('HG1!, 1h', 453, 720, 96);
        watermark('Copper Futures', 453, 823, 46);
        watermark('DXY, 1h', 1411, 720, 90);
        watermark('U.S. Dollar Currency Index', 1411, 823, 46);

        // the scale buttons hide the top of the first silver tick label
        element('cover', 'left:906px;top:2px;width:52px;height:41px');

        legend({ top: 0, left: 9, title: 'Silver Futures · 1h · COMEX · TradingView', flagX: 308, flagColor: '#ff9800',
                 pillX: 339, pillW: 40, pillD: true, ohlcX: [395, 451, 507, 562], ohlc: ['20.960', '20.960', '20.885', '20.915'],
                 ohlcColor: DOWN, td: '1.000', tdSigns: [161, 180], axisX: 916, units: ['USD', 'apoz'] });
        legend({ top: 0, left: 971, title: 'Gold Futures · 1h · COMEX · TradingView', flagX: 1264, flagColor: '#ff9800',
                 pillX: 1295, pillW: 40, pillD: true, ohlcX: [1351, 1407, 1463, 1517], ohlc: ['1684.5', '1686.0', '1683.4', '1685.7'],
                 ohlcColor: UP, td: '1.0', tdSigns: [1110, 1128], axisX: 1875, units: ['USD', 'apoz'] });
        legend({ top: 523, left: 9, title: 'Copper Futures · 1h · COMEX · TradingView', flagX: 319, flagColor: '#ff9800',
                 pillX: 351, pillW: 39, pillD: true, ohlcX: [407, 462, 518, 573], ohlc: ['3.7070', '3.7080', '3.6970', '3.7010'],
                 ohlcColor: DOWN, td: '1.0000', tdSigns: [169, 187], axisX: 916, units: ['USD', 'lb'] });
        legend({ top: 523, left: 971, title: 'U.S. Dollar Currency Index · 1h · TVC · TradingView', flagX: 1341, flagColor: '#ab47bc',
                 pillX: 1372, pillW: 18, pillD: false, ohlcX: [1406, 1469, 1532, 1594], ohlc: ['110.771', '110.802', '110.729', '110.788'],
                 ohlcColor: UP, td: '', tdSigns: [], axisX: 1869, units: ['USD'] });

        // chart settings sun, silver panel only
        overlay.insertAdjacentHTML('beforeend',
            `<svg class="icon" style="left:925px;top:500px" width="16" height="16" fill="none" stroke="#9598a1">
             <circle cx="8" cy="8" r="5"/><path d="M8 0v2.5M8 13.5V16M0 8h2.5M13.5 8H16M2.3 2.3l1.8 1.8M11.9 11.9l1.8 1.8M2.3 13.7l1.8-1.8M11.9 4.1l1.8-1.8"/></svg>`);
    </script>
</body>
</html>
